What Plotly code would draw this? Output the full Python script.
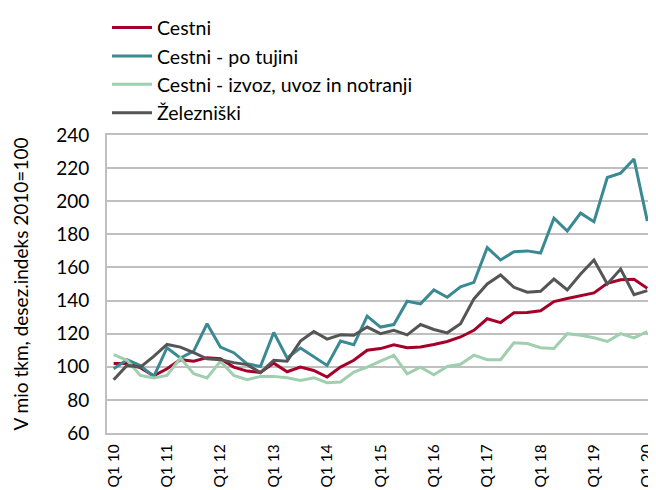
import plotly.graph_objects as go

quarters = [f"Q{q} {y:02d}" for y in range(10, 20) for q in range(1, 5)] + ["Q1 20"]
tick_labels = [f"Q1 {y:02d}" for y in range(10, 21)]

cestni = [102, 102, 99.5, 94.5, 98.8, 104.3, 103.4, 105.5, 104.8, 99.8, 97.4, 96.5, 102.2, 97,
          99.8, 97.8, 93.8, 99.8, 103.9, 110, 111, 113.3, 111.5, 111.9, 113.5, 115.3, 118, 122,
          129, 126.7, 132.6, 132.8, 133.8, 139.4, 141.2, 143, 144.6, 150.4, 152.5, 152.8, 147.4]
cestni_tujina = [98.8, 104.3, 100.8, 94, 111.5, 105.3, 109.5, 126, 111.9, 108.5, 101.8, 100.2, 120.7,
                 105.3, 111.3, 105.8, 100.8, 115.5, 113.3, 130.6, 124, 125.5, 139.6, 138, 146.4, 142,
                 148.3, 151, 172, 164.5, 169.5, 170, 168.7, 189.8, 182, 192.8, 187.6, 214.3, 217, 225.5, 188]
cestni_izvoz = [107.3, 103.9, 94.8, 93.2, 94.8, 105.3, 95.8, 93.2, 103.3, 94.8, 92.2, 94.2, 94.2,
                93.4, 91.8, 93.4, 90.4, 90.8, 96.8, 99.8, 103.4, 106.9, 95.8, 99.8, 95.2, 100.2, 101.5,
                107, 104.3, 104.3, 114.5, 114, 111.5, 111, 120, 119, 117.5, 115.3, 120, 117.5, 121.3]
zelezniski = [92.2, 100.8, 99.8, 106.3, 113.5, 111.9, 108.5, 104.8, 104.3, 102.5, 101.3, 96.5, 103.9,
              103.4, 115.5, 121.3, 116.7, 119.3, 119, 124, 120, 122, 119.3, 125.5, 122.5, 120.5, 126,
              141, 150, 155.5, 148, 145, 145.6, 153, 146.4, 156, 164.5, 150, 159, 143.6, 146]

series = [
    ("Cestni", cestni, "#a5002a"),
    ("Cestni - po tujini", cestni_tujina, "#3a8a93"),
    ("Cestni - izvoz, uvoz in notranji", cestni_izvoz, "#a0cfaf"),
    ("Železniški", zelezniski, "#555555"),
]

fig = go.Figure()
for name, vals, color in series:
    fig.add_trace(go.Scatter(x=quarters, y=vals, name=name, mode="lines",
                             line=dict(color=color, width=3)))

font_family = "Lato, Open Sans, sans-serif"
# page body has an 8px margin, so the figure is sized/positioned to compensate
fig.update_layout(
    width=648, height=482,
    margin=dict(l=99, r=2, t=126, b=57),
    paper_bgcolor="white", plot_bgcolor="white",
    font=dict(family=font_family, size=19, color="#000000"),
    legend=dict(x=0.0, y=1.42, xanchor="left", yanchor="top",
                font=dict(size=19.5), tracegroupgap=0, itemwidth=40,
                bgcolor="rgba(0,0,0,0)"),
    showlegend=True,
)
fig.update_xaxes(
    type="category", range=[-0.5, 40.5],
    tickmode="array", tickvals=tick_labels, ticktext=tick_labels,
    tickangle=-90, showgrid=False, ticks="", automargin=False,
    showline=True, linecolor="#bfbfbf", linewidth=2, mirror=True,
    tickfont=dict(size=15.5), ticklabelstandoff=3,
)
fig.update_yaxes(
    range=[60, 240], dtick=20, tick0=60, automargin=False,
    showgrid=True, gridcolor="#bfbfbf", gridwidth=2,
    showline=True, linecolor="#bfbfbf", linewidth=2, mirror=True,
    ticks="", zeroline=False, ticklabelstandoff=12,
    title=dict(text="V mio tkm, desez.indeks 2010=100", standoff=22, font=dict(size=19)),
    tickfont=dict(size=19),
)

fig.write_html("out.html")
